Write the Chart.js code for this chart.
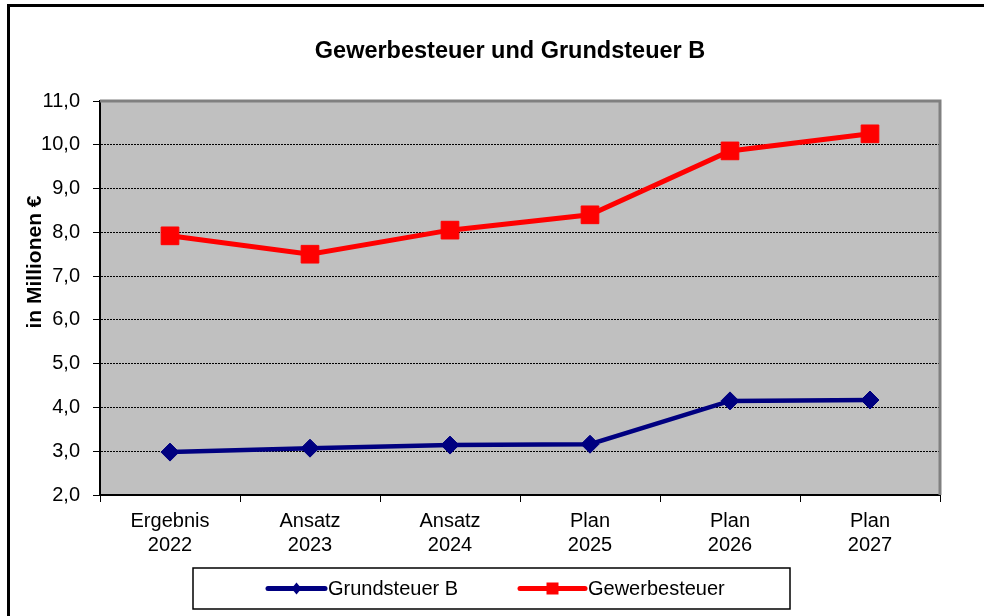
<!DOCTYPE html>
<html lang="de">
<head>
    <meta charset="UTF-8">
    <title>Gewerbesteuer und Grundsteuer B</title>
    <style>
        body {
            margin: 0;
            background-color: #fff;
        }
        #chart {
            display: block;
        }
    </style>
    <script src="https://cdn.jsdelivr.net/npm/chart.js"></script>
</head>
<body>
    <canvas id="chart" width="984" height="616"></canvas>
    <script>
        const categories = [
            ['Ergebnis', '2022'],
            ['Ansatz', '2023'],
            ['Ansatz', '2024'],
            ['Plan', '2025'],
            ['Plan', '2026'],
            ['Plan', '2027']
        ];
        const grundsteuerB = [2.98, 3.07, 3.14, 3.16, 4.15, 4.17];
        const gewerbesteuer = [7.92, 7.50, 8.05, 8.40, 9.86, 10.25];
        const yMin = 2;
        const yMax = 11;
        const yStep = 1;

        const chartTitle = 'Gewerbesteuer und Grundsteuer B';
        const yAxisTitle = 'in Millionen €';

        const FONT = '"Liberation Sans", Arial, sans-serif';

        // gray plot background, gray frame on top/right, outer frame, titles
        const frame = {
            id: 'frame',
            beforeDraw(chart) {
                const { ctx, chartArea: a } = chart;
                ctx.save();
                ctx.fillStyle = '#fff';
                ctx.fillRect(0, 0, chart.width, chart.height);
                ctx.fillStyle = '#c0c0c0';
                ctx.fillRect(a.left, a.top, a.right - a.left, a.bottom - a.top);
                ctx.strokeStyle = '#000';
                ctx.lineWidth = 3;
                ctx.beginPath();
                ctx.moveTo(8.5, chart.height + 5);
                ctx.lineTo(8.5, 5.5);
                ctx.lineTo(chart.width + 5, 5.5);
                ctx.stroke();
                ctx.restore();
            },
            beforeDatasetsDraw(chart) {
                const { ctx, chartArea: a } = chart;
                ctx.save();
                ctx.strokeStyle = '#808080';
                ctx.lineWidth = 3;
                ctx.beginPath();
                ctx.moveTo(a.left, a.top);
                ctx.lineTo(a.right, a.top);
                ctx.lineTo(a.right, a.bottom);
                ctx.stroke();
                ctx.restore();
            },
            afterDraw(chart) {
                const { ctx } = chart;
                ctx.save();
                ctx.fillStyle = '#000';
                ctx.textAlign = 'center';
                ctx.textBaseline = 'middle';
                ctx.font = 'bold 23.5px ' + FONT;
                ctx.fillText(chartTitle, 510, 52);
                ctx.translate(35, 262);
                ctx.rotate(-Math.PI / 2);
                ctx.font = 'bold 21px ' + FONT;
                ctx.fillText(yAxisTitle, 0, 0);
                ctx.restore();
            }
        };

        // boxed legend with line + marker samples
        const boxLegend = {
            id: 'boxLegend',
            afterDraw(chart) {
                const { ctx } = chart;
                const box = { x: 193, y: 568, w: 597, h: 41 };
                const items = [
                    { x1: 268, x2: 325, tx: 328 },
                    { x1: 520, x2: 585, tx: 588 }
                ];
                const cy = box.y + box.h / 2;
                ctx.save();
                ctx.fillStyle = '#fff';
                ctx.fillRect(box.x, box.y, box.w, box.h);
                ctx.strokeStyle = '#000';
                ctx.lineWidth = 1.5;
                ctx.strokeRect(box.x, box.y, box.w, box.h);
                chart.data.datasets.forEach((ds, i) => {
                    const it = items[i];
                    ctx.strokeStyle = ds.borderColor;
                    ctx.lineWidth = 5;
                    ctx.lineCap = 'round';
                    ctx.beginPath();
                    ctx.moveTo(it.x1, cy);
                    ctx.lineTo(it.x2, cy);
                    ctx.stroke();
                    const mx = (it.x1 + it.x2) / 2;
                    ctx.fillStyle = ds.pointBackgroundColor;
                    ctx.beginPath();
                    if (ds.pointStyle === 'rectRot') {
                        ctx.moveTo(mx - 5, cy);
                        ctx.lineTo(mx, cy - 6);
                        ctx.lineTo(mx + 5, cy);
                        ctx.lineTo(mx, cy + 6);
                        ctx.closePath();
                    } else {
                        ctx.rect(mx - 6, cy - 6, 12, 12);
                    }
                    ctx.fill();
                    ctx.fillStyle = '#000';
                    ctx.font = '20px ' + FONT;
                    ctx.textBaseline = 'middle';
                    ctx.textAlign = 'left';
                    ctx.fillText(ds.label, it.tx, cy + 1);
                });
                ctx.restore();
            }
        };

        new Chart(document.getElementById('chart'), {
            type: 'line',
            data: {
                labels: categories,
                datasets: [{
                    label: 'Grundsteuer B',
                    data: grundsteuerB,
                    borderColor: '#000080',
                    backgroundColor: '#000080',
                    pointBackgroundColor: '#000080',
                    pointBorderColor: '#000080',
                    borderWidth: 4.5,
                    pointStyle: 'rectRot',
                    pointRadius: 9,
                    pointBorderWidth: 1,
                    tension: 0
                }, {
                    label: 'Gewerbesteuer',
                    data: gewerbesteuer,
                    borderColor: '#ff0000',
                    backgroundColor: '#ff0000',
                    pointBackgroundColor: '#ff0000',
                    pointBorderColor: '#ff0000',
                    borderWidth: 5,
                    pointStyle: 'rect',
                    pointRadius: 12.5,
                    pointBorderWidth: 1,
                    tension: 0
                }]
            },
            options: {
                responsive: false,
                animation: false,
                events: [],
                layout: {
                    padding: { left: 20, right: 44, top: 101, bottom: 0 }
                },
                plugins: {
                    legend: { display: false },
                    tooltip: { enabled: false },
                    title: { display: false }
                },
                scales: {
                    x: {
                        offset: true,
                        afterFit(scale) { scale.height = 121; },
                        grid: {
                            offset: true,
                            drawOnChartArea: false,
                            color: '#000',
                            tickColor: '#000',
                            tickLength: 7,
                            tickWidth: 1
                        },
                        border: { color: '#000', width: 2 },
                        ticks: {
                            color: '#000',
                            padding: 7,
                            maxRotation: 0,
                            autoSkip: false,
                            font: { family: FONT, size: 20, lineHeight: 1.2 }
                        }
                    },
                    y: {
                        min: yMin,
                        max: yMax,
                        afterFit(scale) { scale.width = 80; },
                        grid: {
                            color: (c) => (c.tick && c.tick.value > yMin && c.tick.value < yMax) ? '#000' : 'rgba(0,0,0,0)',
                            lineWidth: 1,
                            tickColor: '#000',
                            tickLength: 7,
                            tickWidth: 1,
                            tickBorderDash: []
                        },
                        border: { color: '#000', width: 2, dash: [2, 1] },
                        ticks: {
                            stepSize: yStep,
                            color: '#000',
                            padding: 13,
                            font: { family: FONT, size: 20 },
                            callback: (v) => v.toFixed(1).replace('.', ',')
                        }
                    }
                }
            },
            plugins: [frame, boxLegend]
        });
    </script>
</body>
</html>
